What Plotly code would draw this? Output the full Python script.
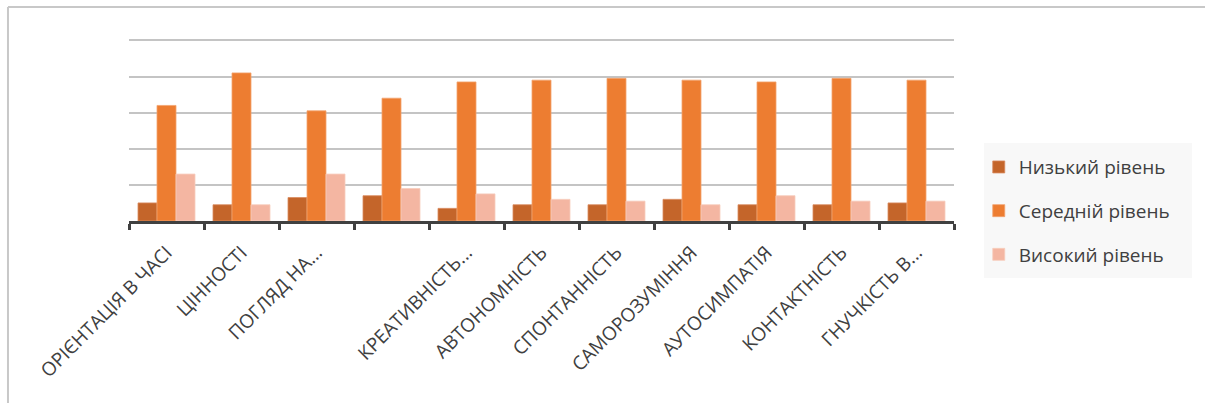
import plotly.graph_objects as go

categories = ["ОРІЄНТАЦІЯ В ЧАСІ", "ЦІННОСТІ", "ПОГЛЯД НА ПРИРОДУ ЛЮДИНИ", "ПОТРЕБА В ПІЗНАННІ",
              "КРЕАТИВНІСТЬ", "АВТОНОМНІСТЬ", "СПОНТАННІСТЬ", "САМОРОЗУМІННЯ",
              "АУТОСИМПАТІЯ", "КОНТАКТНІСТЬ", "ГНУЧКІСТЬ В СПІЛКУВАННІ"]
tick_labels = ["ОРІЄНТАЦІЯ В ЧАСІ", "ЦІННОСТІ", "ПОГЛЯД НА...", " ",
               "КРЕАТИВНІСТЬ...", "АВТОНОМНІСТЬ", "СПОНТАННІСТЬ", "САМОРОЗУМІННЯ",
               "АУТОСИМПАТІЯ", "КОНТАКТНІСТЬ", "ГНУЧКІСТЬ В..."]
low = [10, 9, 13, 14, 7, 9, 9, 12, 9, 9, 10]
medium = [64, 82, 61, 68, 77, 78, 79, 78, 77, 79, 78]
high = [26, 9, 26, 18, 15, 12, 11, 9, 14, 11, 11]
series_names = ["Низький рівень", "Середній рівень", "Високий рівень"]
colors = ["#C4652A", "#ED7D31", "#F4B6A2"]
edge_colors = ["#D98A5E", "#F2A36E", "#F8CDBD"]

fig = go.Figure()
for i, (name, vals) in enumerate(zip(series_names, [low, medium, high])):
    fig.add_trace(go.Bar(
        x=categories, y=vals, name=name, legendgroup=str(i),
        marker=dict(color=colors[i], line=dict(color=edge_colors[i], width=0.8)),
    ))

fig.update_layout(
    width=1205, height=403,
    margin=dict(l=129, r=251, t=35, b=182),
    paper_bgcolor="white", plot_bgcolor="white",
    barmode="group", bargap=0.24, bargroupgap=0,
    font=dict(family="Open Sans", color="#404040"),
    legend=dict(x=1.030, y=0.392, xanchor="left", yanchor="top",
                bgcolor="rgba(0,0,0,0)", font=dict(size=19, color="#404040"),
                tracegroupgap=16, traceorder="grouped", itemwidth=30),
    showlegend=True,
)
fig.update_xaxes(
    type="category", categoryorder="array", categoryarray=categories,
    tickmode="array", tickvals=categories, ticktext=tick_labels,
    tickangle=-45, tickfont=dict(size=19, color="#404040"),
    showline=True, linecolor="#404040", linewidth=3,
    ticks="outside", ticklen=6, tickwidth=3, tickcolor="#404040",
    tickson="boundaries", showgrid=False,
    ticklabelstandoff=10,
)
fig.update_yaxes(
    range=[0, 103], tick0=0, dtick=20, showticklabels=False,
    showgrid=True, gridcolor="#C4C4C4", gridwidth=1.5,
    zeroline=False, showline=False, ticks="",
)
# outer chart frame
fig.add_shape(type="line", xref="paper", yref="paper",
              x0=-0.1467, x1=-0.1467, y0=-1.2, y1=1.1505,
              line=dict(color="#C8C8C8", width=2))
fig.add_shape(type="line", xref="paper", yref="paper",
              x0=-0.1467, x1=1.4, y0=1.1505, y1=1.1505,
              line=dict(color="#C8C8C8", width=2))
# legend box
fig.add_shape(type="rect", xref="paper", yref="paper", layer="below",
              x0=1.0364, x1=1.2885, y0=-0.3065, y1=0.4194,
              fillcolor="#F8F8F8", line=dict(width=0))

fig.write_html("out.html")
